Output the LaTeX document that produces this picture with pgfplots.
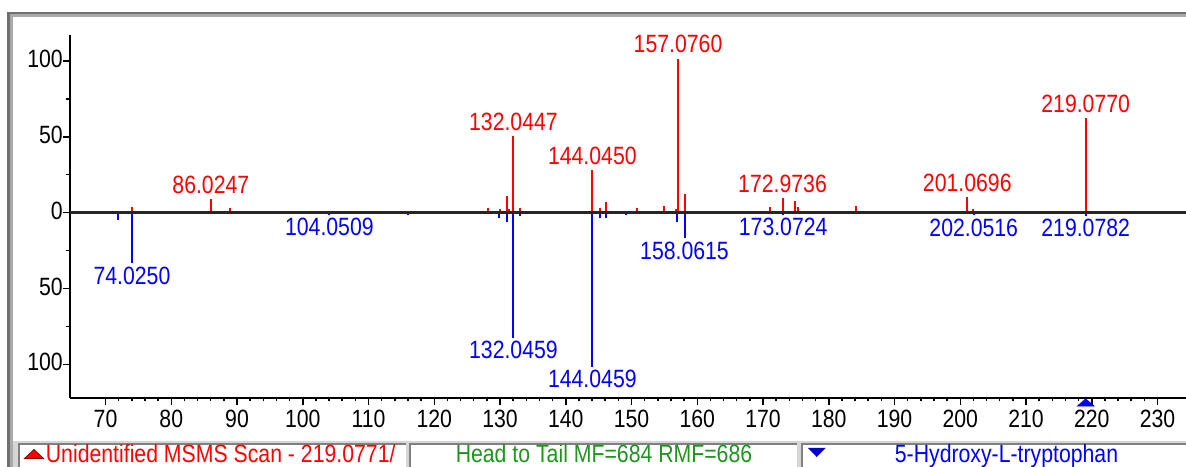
\documentclass[border=0pt]{standalone}
\usepackage{fontspec}
\setmainfont{Liberation Sans}[FakeStretch=0.85]
\usepackage{pgfplots}
\usepackage{pgfplotstable}
\pgfplotsset{compat=1.18}

\definecolor{specred}{RGB}{255,0,0}
\definecolor{specblue}{RGB}{0,0,255}
\definecolor{statgreen}{RGB}{30,150,30}
\definecolor{frameDark}{RGB}{112,112,112}
\definecolor{frameLight}{RGB}{170,170,170}
\definecolor{barGray}{RGB}{214,214,214}
\definecolor{boxEdge}{RGB}{128,128,128}

\newcommand\chartfont{\fontsize{25bp}{28bp}\selectfont}
\pgfkeys{/pgf/number format/assume math mode=true}

% measured spectrum (head, upward)
\pgfplotstableread{
mz    int
74.0  4
89.0  3
128.1 3.3
130.0 2.7
131.1 11
131.4 2.7
133.0 3
145.2 3
146.1 7
150.9 3
154.9 4.5
156.7 2.7
158.2 12
171.0 4
174.9 7.8
175.3 4
184.2 4.5
202.0 2.7
}\unknownminor
\pgfplotstableread{
mz       int
86.0247  9
132.0447 50.5
144.0450 28
157.0760 101.5
172.9736 9.5
201.0696 10
219.0770 62.5
}\unknownlabelled

% library spectrum (tail, downward)
\pgfplotstableread{
mz    int
71.9  -5
116.0 -1.5
129.9 -3.3
131.1 -6
133.0 -2
145.2 -3.3
146.1 -3.3
149.2 -1.8
156.9 -6
}\libraryminor
\pgfplotstableread{
mz       int
74.0250  -33.5
104.0509 -1.5
132.0459 -82.5
144.0459 -101.5
158.0615 -17
173.0724 -1.5
202.0516 -1.8
219.0782 -2
}\librarylabelled

\begin{document}
\begin{tikzpicture}
\clip (0,0) rectangle (1186bp,467bp);
\fill[white] (0,0) rectangle (1186bp,467bp);

\begin{axis}[
  at={(70bp,69.3bp)}, anchor=south west,
  x=6.575bp, y=1.517bp,
  xmin=64.6, xmax=235, ymin=-122, ymax=117.1,
  axis lines=left,
  axis line style={-, black, line width=2bp},
  clip=false,
  xtick={70,80,...,230},
  minor x tick num=4,
  ytick={-100,-50,0,50,100},
  yticklabels={100,50,0,50,100},
  minor y tick num=1,
  tick align=outside,
  major tick length=7bp,
  minor tick length=3.5bp,
  tick style={black, line width=1.5bp},
  every tick label/.append style={font=\chartfont, text=black},
  xticklabel style={inner sep=0pt},
  xticklabel shift=5bp,
  yticklabel style={inner sep=0pt, yshift=2bp},
  /pgf/number format/assume math mode=true,
]
  \addplot[ycomb, specred, line width=2bp, mark=none]
    table[x=mz, y=int] {\unknownminor};
  \addplot[ycomb, specblue, line width=2bp, mark=none]
    table[x=mz, y=int] {\libraryminor};
  \addplot[ycomb, specred, line width=2bp, mark=none,
    point meta=x,
    nodes near coords={\pgfmathprintnumber[fixed, fixed zerofill, precision=4]{\pgfplotspointmeta}},
    nodes near coords style={font=\chartfont, text=specred, anchor=south, inner sep=0pt, yshift=4.5bp}]
    table[x=mz, y=int] {\unknownlabelled};
  \addplot[ycomb, specblue, line width=2bp, mark=none,
    point meta=x,
    nodes near coords={\pgfmathprintnumber[fixed, fixed zerofill, precision=4]{\pgfplotspointmeta}},
    nodes near coords style={font=\chartfont, text=specblue, anchor=north, inner sep=0pt, yshift=-2.5bp}]
    table[x=mz, y=int] {\librarylabelled};
  % precursor marker under the m/z axis
  \addplot[only marks, mark=triangle*, color=specblue, mark size=10bp,
    mark options={draw=none, fill=specblue, yshift=-6bp, yscale=0.5}]
    coordinates {(219.077,-122)};
  % baseline between head and tail
  \draw[black!85, line width=2.5bp] (axis cs:64.6,0) -- (axis cs:235,0);
\end{axis}

% window frame
\fill[frameDark] (7.3bp,452.5bp) rectangle (1186bp,455.3bp);
\fill[frameLight] (10.3bp,449.7bp) rectangle (1186bp,452.5bp);
\fill[frameDark] (7.3bp,0) rectangle (10.3bp,455.3bp);
\fill[frameLight] (10.3bp,0) rectangle (13.3bp,452.5bp);

% status bar
\fill[barGray] (13.3bp,0) rectangle (1186bp,26bp);
\fill[white] (18.3bp,0) rectangle (406bp,23.5bp);
\fill[white] (408.5bp,0) rectangle (797bp,23.5bp);
\fill[white] (800.5bp,0) rectangle (1186bp,23.5bp);
\draw[boxEdge, line width=2bp] (19.3bp,0) -- (19.3bp,22.5bp) -- (406bp,22.5bp);
\draw[boxEdge, line width=2bp] (409.5bp,0) -- (409.5bp,22.5bp) -- (797bp,22.5bp);
\draw[boxEdge, line width=2bp] (801.5bp,0) -- (801.5bp,22.5bp) -- (1186bp,22.5bp);

\filldraw[fill=specred, draw=red!55!black, line width=0.8bp]
  (24.5bp,8.5bp) -- (43.5bp,8.5bp) -- (34bp,17.5bp) -- cycle;
\begin{scope}
  \clip (20bp,0) rectangle (405bp,22bp);
  \node[anchor=base west, inner sep=0pt, font=\chartfont, text=specred]
    at (45.7bp,4.7bp) {Unidentified MSMS Scan - 219.0771/};
\end{scope}
\node[anchor=base, inner sep=0pt, font=\chartfont, text=statgreen]
  at (604bp,4.7bp) {Head to Tail MF=684 RMF=686};
\fill[blue!80!black] (808bp,19bp) -- (825.5bp,19bp) -- (816.7bp,10bp) -- cycle;
\node[anchor=base, inner sep=0pt, font=\chartfont, text=specblue]
  at (1006.5bp,4.7bp) {5-Hydroxy-L-tryptophan};
\end{tikzpicture}
\end{document}
